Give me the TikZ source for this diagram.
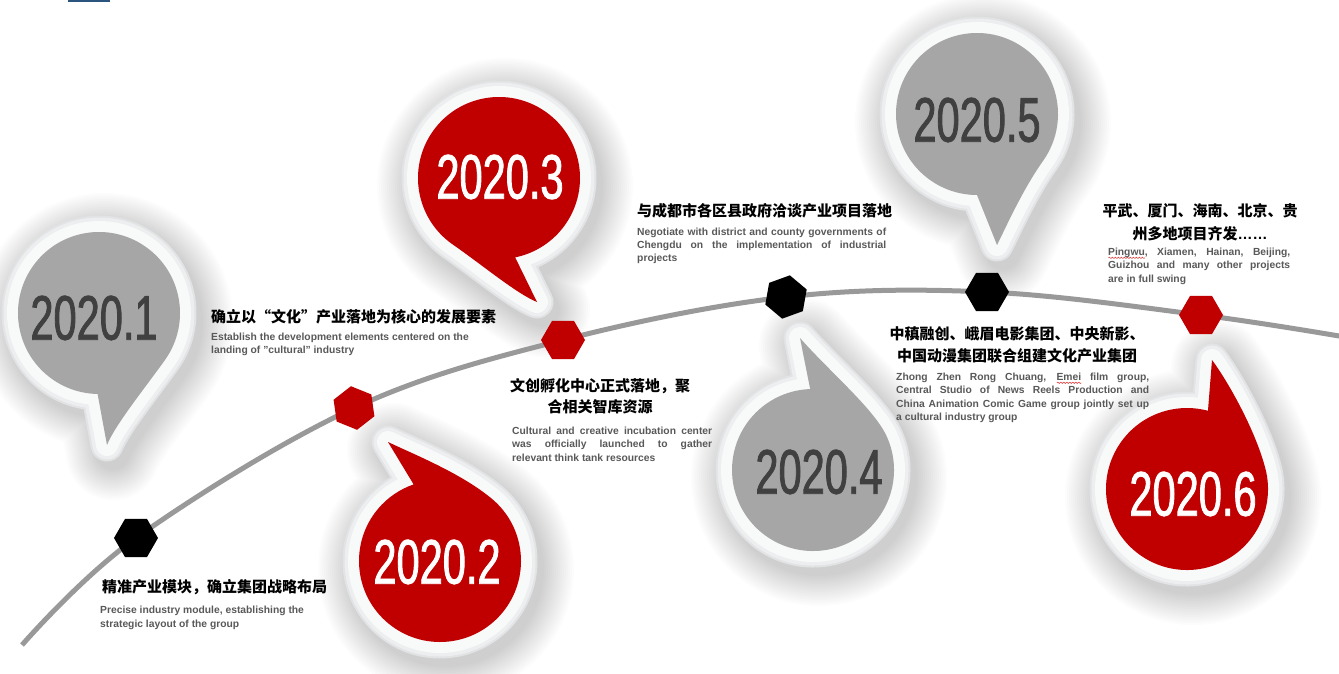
\documentclass[tikz,border=0pt]{standalone}
\usepackage{fontspec}
\usetikzlibrary{shapes.geometric,decorations.pathmorphing}
\setmainfont{Liberation Sans}
\newfontfamily\cjk{Noto Sans CJK SC}
\newfontfamily\yearfont{Liberation Sans}[FakeStretch=0.66, FakeBold=1.3]

\definecolor{bred}{HTML}{C00000}
\definecolor{bgray}{HTML}{A6A6A6}
\definecolor{ydark}{HTML}{404040}
\definecolor{linegray}{HTML}{999999}
\definecolor{engray}{HTML}{595959}
\definecolor{ringA}{HTML}{E1E3E4}
\definecolor{ringB}{HTML}{ECEEEF}
\definecolor{ringC}{HTML}{F8F9F9}
\definecolor{titleblue}{HTML}{2B557F}
\definecolor{wavered}{HTML}{E03030}

% red wavy underline under a word
\newlength\wavewd
\newcommand\spellwave[1]{\settowidth\wavewd{#1}\rlap{\begin{tikzpicture}[baseline=0pt]
  \draw[wavered, line width=.5pt, decorate, decoration={snake, segment length=3pt, amplitude=.7pt}] (0pt,-2.8pt) -- (\wavewd,-2.8pt);
  \end{tikzpicture}}#1}

% speech-bubble outlines, relative to the centre of the round part (radius 81)
\def\pathA{(91:81) -- (8,132) .. controls (16,112) and (46,75) .. (35:81) arc[start angle=35,end angle=-269,radius=81] -- cycle}
\def\pathB{(-109:81) -- (-52,-119) .. controls (-27,-107) and (21,-88) .. (-50:81) arc[start angle=-50,end angle=251,radius=81] -- cycle}
\def\pathC{(78.5:81) -- (38,124) .. controls (18,116) and (-18,86) .. (125:81) arc[start angle=125,end angle=438.5,radius=81] -- cycle}
\def\pathD{(-92:81) -- (-13,-132) .. controls (16,-99) and (61,-61) .. (-25:81) arc[start angle=-25,end angle=268,radius=81] -- cycle}
\def\pathE{(90:81) -- (20,131) .. controls (30,111) and (46,75) .. (35:81) arc[start angle=35,end angle=-270,radius=81] -- cycle}
\def\pathF{(-75:81) -- (25,-129) .. controls (40,-109) and (68,-60) .. (-15:81) arc[start angle=-15,end angle=285,radius=81] -- cycle}

\newcommand\bubbleshadow[3]{%
  \begin{scope}[shift={(#1+6,#2+8)}]
    \foreach \w in {34,38,...,94}{\draw[black, opacity=.012, line width=\w, line join=round] #3;}
  \end{scope}}
\newcommand\bubblebody[4]{%
  \begin{scope}[shift={(#1,#2)}]
    \draw[ringA, line width=33, line join=round] #3;
    \draw[ringB, line width=29, line join=round] #3;
    \draw[ringC, line width=22, line join=round] #3;
    \fill[#4] #3;
  \end{scope}}

\begin{document}
\begin{tikzpicture}[x=1pt,y=-1pt,
  hexbase/.style={regular polygon, regular polygon sides=6, minimum size=44, inner sep=0, draw=none},
  hexr/.style={hexbase, fill=bred},
  hexk/.style={hexbase, fill=black},
  yearlbl/.style={font=\yearfont\fontsize{63}{63}\selectfont, inner sep=0},
  cjkline/.style={font=\cjk\bfseries\fontsize{15}{15}\selectfont, inner sep=0, text=black},
  enline/.style={font=\bfseries\fontsize{10.3}{13}\selectfont, inner sep=0, text=engray, anchor=base west},
  timeline/.style={linegray, line width=5}]
\useasboundingbox (0,0) rectangle (1339,674);
\fill[white] (0,0) rectangle (1339,674);

% heading remnant at the top edge
\fill[titleblue] (68,-2) rectangle (110,2);

% soft shadows under the bubbles
\bubbleshadow{99}{313}{\pathA}
\bubbleshadow{440}{561}{\pathB}
\bubbleshadow{499}{178}{\pathC}
\bubbleshadow{813}{470}{\pathD}
\bubbleshadow{977}{114}{\pathE}
\bubbleshadow{1187}{489}{\pathF}

% bubbles
\bubblebody{99}{313}{\pathA}{bgray}
\bubblebody{440}{561}{\pathB}{bred}
\bubblebody{499}{178}{\pathC}{bred}
\bubblebody{813}{470}{\pathD}{bgray}
\bubblebody{977}{114}{\pathE}{bgray}
\bubblebody{1187}{489}{\pathF}{bred}

% time line through the milestones
\coordinate (s0) at (22,645);
\coordinate (p1) at (136,538);
\coordinate (p2) at (354,408);
\coordinate (p3) at (563,340);
\coordinate (p4) at (786,297);
\coordinate (p5) at (987,292);
\coordinate (p6) at (1201,315);
\coordinate (s7) at (1345,337);
\draw[timeline] plot[smooth, tension=.6] coordinates {(s0) (p1) (p2) (p3) (p4) (p5) (p6) (s7)};

\node[hexk] (h1) at (p1) {};
\node[hexr, rotate=38] (h2) at (p2) {};
\node[hexr] (h3) at (p3) {};
\node[hexk, rotate=20] (h4) at (p4) {};
\node[hexk] (h5) at (p5) {};
\node[hexr] (h6) at (p6) {};

% years
\node[yearlbl, text=ydark] (y1) at (94,318) {2020.1};
\node[yearlbl, text=white] (y2) at (437,562) {2020.2};
\node[yearlbl, text=white] (y3) at (500,177) {2020.3};
\node[yearlbl, text=ydark] (y4) at (819,472) {2020.4};
\node[yearlbl, text=ydark] (y5) at (977,120) {2020.5};
\node[yearlbl, text=white] (y6) at (1193,494) {2020.6};

% 2020.1
\node[cjkline, anchor=base west] (c1) at (211,322.5) {确立以“文化”产业落地为核心的发展要素};
\node[enline] (e1a) at (211,340) {Establish the development elements centered on the};
\node[enline] (e1b) at (211,353.5) {landing of "cultural" industry};

% first milestone
\node[cjkline, anchor=base west] (c0) at (102,592.5) {精准产业模块，确立集团战略布局};
\node[enline] (e0a) at (100,613) {Precise industry module, establishing the};
\node[enline] (e0b) at (100,627) {strategic layout of the group};

% incubation centre
\node[cjkline, anchor=base] (c3a) at (600,391) {文创孵化中心正式落地，聚};
\node[cjkline, anchor=base] (c3b) at (600,412.5) {合相关智库资源};
\node[enline] (e3a) at (512,434) {\makebox[200pt][s]{Cultural and creative incubation center}};
\node[enline] (e3b) at (512,447.5) {\makebox[200pt][s]{was officially launched to gather}};
\node[enline] (e3c) at (512,461) {relevant think tank resources};

% Chengdu
\node[cjkline, anchor=base west] (c4) at (637,216) {与成都市各区县政府洽谈产业项目落地};
\node[enline] (e4a) at (637,235) {\makebox[249pt][s]{Negotiate with district and county governments of}};
\node[enline] (e4b) at (637,248) {\makebox[249pt][s]{Chengdu on the implementation of industrial}};
\node[enline] (e4c) at (637,261) {projects};

% joint group
\node[cjkline, anchor=base] (c5a) at (1017,339) {中稹融创、峨眉电影集团、中央新影、};
\node[cjkline, anchor=base] (c5b) at (1017,361) {中国动漫集团联合组建文化产业集团};
\node[enline] (e5a) at (896,380) {\makebox[253pt][s]{Zhong Zhen Rong Chuang, \spellwave{Emei} film group,}};
\node[enline] (e5b) at (896,393.5) {\makebox[253pt][s]{Central Studio of News Reels Production and}};
\node[enline] (e5c) at (896,407) {\makebox[253pt][s]{China Animation Comic Game group jointly set up}};
\node[enline] (e5d) at (896,420) {a cultural industry group};

% projects everywhere
\node[cjkline, anchor=base] (c6a) at (1200,216) {平武、厦门、海南、北京、贵};
\node[cjkline, anchor=base] (c6b) at (1200,239.5) {州多地项目齐发{\rmfamily\bfseries ……}};
\node[enline] (e6a) at (1108,255) {\makebox[182pt][s]{\spellwave{Pingwu}, Xiamen, Hainan, Beijing,}};
\node[enline] (e6b) at (1108,268.5) {\makebox[182pt][s]{Guizhou and many other projects}};
\node[enline] (e6c) at (1108,282) {are in full swing};
\end{tikzpicture}
\end{document}
